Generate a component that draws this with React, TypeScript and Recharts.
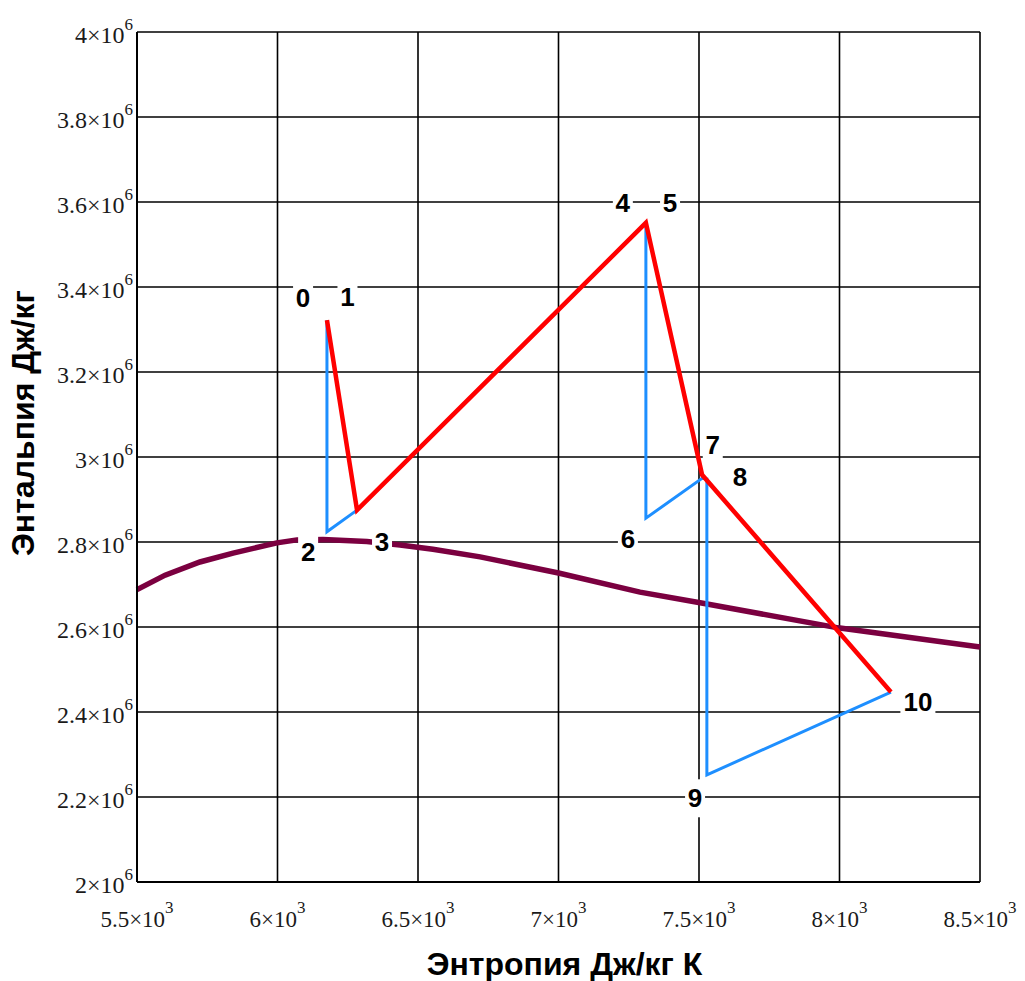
import {
  ComposedChart,
  Line,
  Scatter,
  XAxis,
  YAxis,
  CartesianGrid,
} from 'recharts'

// s = entropy (J/kg K), h = enthalpy (J/kg)
const realProcess = [
  { s: 6176, h: 3.322e6 },
  { s: 6283, h: 2.875e6 },
  { s: 7311, h: 3.551e6 },
  { s: 7511, h: 2.958e6 },
  { s: 8183, h: 2.447e6 },
]

const idealProcess = [
  { s: 6176, h: 3.322e6 },
  { s: 6176, h: 2.824e6 },
  { s: 6283, h: 2.875e6 },
]

const idealProcess2 = [
  { s: 7311, h: 3.551e6 },
  { s: 7311, h: 2.856e6 },
  { s: 7511, h: 2.95e6 },
  { s: 7528, h: 2.948e6 },
  { s: 7528, h: 2.252e6 },
  { s: 8183, h: 2.447e6 },
]

const saturation = [
  { s: 5500, h: 2.688e6 },
  { s: 5600, h: 2.722e6 },
  { s: 5724, h: 2.753e6 },
  { s: 5842, h: 2.774e6 },
  { s: 5998, h: 2.798e6 },
  { s: 6069, h: 2.805e6 },
  { s: 6162, h: 2.806e6 },
  { s: 6318, h: 2.801e6 },
  { s: 6436, h: 2.793e6 },
  { s: 6553, h: 2.783e6 },
  { s: 6721, h: 2.765e6 },
  { s: 7000, h: 2.727e6 },
  { s: 7290, h: 2.682e6 },
  { s: 7504, h: 2.657e6 },
  { s: 7995, h: 2.598e6 },
  { s: 8500, h: 2.553e6 },
]

const pointLabels = [
  { s: 6091, h: 3.374e6, t: '0' },
  { s: 6249, h: 3.377e6, t: '1' },
  { s: 6109, h: 2.776e6, t: '2' },
  { s: 6372, h: 2.8e6, t: '3' },
  { s: 7229, h: 3.598e6, t: '4' },
  { s: 7397, h: 3.598e6, t: '5' },
  { s: 7247, h: 2.807e6, t: '6' },
  { s: 7549, h: 3.028e6, t: '7' },
  { s: 7646, h: 2.953e6, t: '8' },
  { s: 7486, h: 2.197e6, t: '9' },
  { s: 8279, h: 2.423e6, t: '10' },
]

const xTicks = [5500, 6000, 6500, 7000, 7500, 8000, 8500]
const xTickLabels = ['5.5', '6', '6.5', '7', '7.5', '8', '8.5']
const yTicks = [2e6, 2.2e6, 2.4e6, 2.6e6, 2.8e6, 3e6, 3.2e6, 3.4e6, 3.6e6, 3.8e6, 4e6]
const yTickLabels = ['2', '2.2', '2.4', '2.6', '2.8', '3', '3.2', '3.4', '3.6', '3.8', '4']

const tickFont = '"Liberation Serif", "Times New Roman", serif'
const titleFont = '"Liberation Sans", Arial, sans-serif'

const XTick = ({ x, y, index }: any) => (
  <text x={x} y={y + 45} textAnchor="middle" fontFamily={tickFont} fontSize={23} fill="#1a1a1a">
    <tspan>{xTickLabels[index]}×10</tspan>
    <tspan dy={-14} fontSize={17}>3</tspan>
  </text>
)

const YTick = ({ x, y, index }: any) => (
  <text x={x} y={y + 11} textAnchor="end" fontFamily={tickFont} fontSize={24} fill="#1a1a1a">
    <tspan>{yTickLabels[index]}×10</tspan>
    <tspan dy={-13} fontSize={17}>6</tspan>
  </text>
)

const PointLabel = ({ cx, cy, payload }: any) => {
  const w = payload.t.length * 15 + 5
  return (
    <g>
      <rect x={cx - w / 2} y={cy - 19} width={w} height={38} fill="#fff" />
      <text
        x={cx}
        y={cy + 9}
        textAnchor="middle"
        fontFamily={titleFont}
        fontWeight="bold"
        fontSize={26}
        fill="#000"
      >
        {payload.t}
      </text>
    </g>
  )
}

export default function App() {
  return (
    <div style={{ position: 'absolute', left: 0, top: 0, background: '#fff' }}>
      <ComposedChart
        width={1025}
        height={981}
        margin={{ top: 32, right: 45, bottom: 0, left: 0 }}
      >
        <CartesianGrid stroke="#000" strokeWidth={1.6} strokeOpacity={1} />
        <XAxis
          dataKey="s"
          type="number"
          domain={[5500, 8500]}
          ticks={xTicks}
          height={99}
          tickSize={0}
          tickMargin={0}
          axisLine={{ stroke: '#000', strokeWidth: 2 }}
          tick={<XTick />}
          interval={0}
          label={{
            content: ({ viewBox }: any) => (
              <text
                x={viewBox.x + viewBox.width / 2 + 6}
                y={viewBox.y + 93}
                textAnchor="middle"
                fontFamily={titleFont}
                fontWeight="bold"
                fontSize={32}
                fill="#000"
              >
                Энтропия Дж/кг К
              </text>
            ),
          }}
        />
        <YAxis
          type="number"
          domain={[2e6, 4e6]}
          ticks={yTicks}
          width={137}
          tickSize={0}
          tickMargin={4}
          axisLine={{ stroke: '#000', strokeWidth: 2 }}
          tick={<YTick />}
          interval={0}
          label={{
            content: ({ viewBox }: any) => (
              <text
                transform={`translate(${viewBox.x + 34}, ${viewBox.y + viewBox.height / 2 - 34}) rotate(-90)`}
                textAnchor="middle"
                fontFamily={titleFont}
                fontWeight="bold"
                fontSize={32}
                fill="#000"
              >
                Энтальпия Дж/кг
              </text>
            ),
          }}
        />
        <Line
          data={saturation}
          dataKey="h"
          type="linear"
          stroke="#7b0040"
          strokeWidth={5.5}
          dot={false}
          activeDot={false}
          isAnimationActive={false}
        />
        <Line
          data={idealProcess}
          dataKey="h"
          type="linear"
          stroke="#1e8fff"
          strokeWidth={3}
          dot={false}
          activeDot={false}
          isAnimationActive={false}
        />
        <Line
          data={idealProcess2}
          dataKey="h"
          type="linear"
          stroke="#1e8fff"
          strokeWidth={3}
          dot={false}
          activeDot={false}
          isAnimationActive={false}
        />
        <Scatter data={pointLabels} dataKey="h" shape={<PointLabel />} isAnimationActive={false} />
        <Line
          data={realProcess}
          dataKey="h"
          type="linear"
          stroke="#ff0000"
          strokeWidth={4.5}
          dot={false}
          activeDot={false}
          isAnimationActive={false}
        />
      </ComposedChart>
    </div>
  )
}
